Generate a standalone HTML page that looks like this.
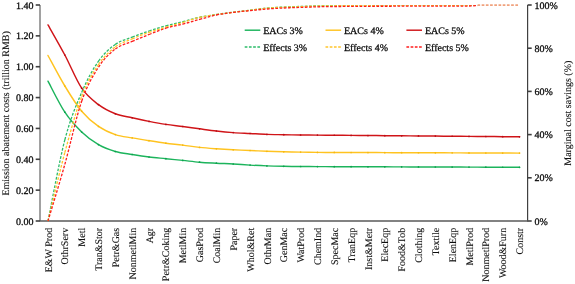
<!DOCTYPE html>
<html><head><meta charset="utf-8"><style>
html,body{margin:0;padding:0;background:#fff;}
body{width:575px;height:284px;overflow:hidden;font-family:"Liberation Serif",serif;}
svg{display:block;will-change:transform;}
text{text-rendering:geometricPrecision;}
</style></head><body>
<svg width="575" height="284" viewBox="0 0 575 284">
<defs><clipPath id="pa"><rect x="40" y="4.9" width="488" height="217"/></clipPath></defs>
<rect width="575" height="284" fill="#fff"/>
<line x1="40" y1="5" x2="40" y2="221" stroke="#8a8a8a" stroke-width="1.6"/>
<line x1="35.7" y1="5.00" x2="40" y2="5.00" stroke="#404040" stroke-width="1.6"/>
<text x="33.4" y="8.60" text-anchor="end" font-family="Liberation Serif, serif" font-size="10" stroke="#000" stroke-width="0.3" stroke-opacity="0.9" fill="#111">1.40</text>
<line x1="35.7" y1="35.86" x2="40" y2="35.86" stroke="#404040" stroke-width="1.6"/>
<text x="33.4" y="39.46" text-anchor="end" font-family="Liberation Serif, serif" font-size="10" stroke="#000" stroke-width="0.3" stroke-opacity="0.9" fill="#111">1.20</text>
<line x1="35.7" y1="66.71" x2="40" y2="66.71" stroke="#404040" stroke-width="1.6"/>
<text x="33.4" y="70.31" text-anchor="end" font-family="Liberation Serif, serif" font-size="10" stroke="#000" stroke-width="0.3" stroke-opacity="0.9" fill="#111">1.00</text>
<line x1="35.7" y1="97.57" x2="40" y2="97.57" stroke="#404040" stroke-width="1.6"/>
<text x="33.4" y="101.17" text-anchor="end" font-family="Liberation Serif, serif" font-size="10" stroke="#000" stroke-width="0.3" stroke-opacity="0.9" fill="#111">0.80</text>
<line x1="35.7" y1="128.43" x2="40" y2="128.43" stroke="#404040" stroke-width="1.6"/>
<text x="33.4" y="132.03" text-anchor="end" font-family="Liberation Serif, serif" font-size="10" stroke="#000" stroke-width="0.3" stroke-opacity="0.9" fill="#111">0.60</text>
<line x1="35.7" y1="159.29" x2="40" y2="159.29" stroke="#404040" stroke-width="1.6"/>
<text x="33.4" y="162.89" text-anchor="end" font-family="Liberation Serif, serif" font-size="10" stroke="#000" stroke-width="0.3" stroke-opacity="0.9" fill="#111">0.40</text>
<line x1="35.7" y1="190.14" x2="40" y2="190.14" stroke="#404040" stroke-width="1.6"/>
<text x="33.4" y="193.74" text-anchor="end" font-family="Liberation Serif, serif" font-size="10" stroke="#000" stroke-width="0.3" stroke-opacity="0.9" fill="#111">0.20</text>
<line x1="35.7" y1="221.00" x2="40" y2="221.00" stroke="#404040" stroke-width="1.6"/>
<text x="33.4" y="224.60" text-anchor="end" font-family="Liberation Serif, serif" font-size="10" stroke="#000" stroke-width="0.3" stroke-opacity="0.9" fill="#111">0.00</text>
<line x1="527.6" y1="5" x2="527.6" y2="221.5" stroke="#404040" stroke-width="1.2"/>
<line x1="527.6" y1="221.00" x2="531.7" y2="221.00" stroke="#404040" stroke-width="1.6"/>
<text x="534.6" y="224.60" font-family="Liberation Serif, serif" font-size="10" stroke="#000" stroke-width="0.3" stroke-opacity="0.9" fill="#111">0%</text>
<line x1="527.6" y1="177.80" x2="531.7" y2="177.80" stroke="#404040" stroke-width="1.6"/>
<text x="534.6" y="181.40" font-family="Liberation Serif, serif" font-size="10" stroke="#000" stroke-width="0.3" stroke-opacity="0.9" fill="#111">20%</text>
<line x1="527.6" y1="134.60" x2="531.7" y2="134.60" stroke="#404040" stroke-width="1.6"/>
<text x="534.6" y="138.20" font-family="Liberation Serif, serif" font-size="10" stroke="#000" stroke-width="0.3" stroke-opacity="0.9" fill="#111">40%</text>
<line x1="527.6" y1="91.40" x2="531.7" y2="91.40" stroke="#404040" stroke-width="1.6"/>
<text x="534.6" y="95.00" font-family="Liberation Serif, serif" font-size="10" stroke="#000" stroke-width="0.3" stroke-opacity="0.9" fill="#111">60%</text>
<line x1="527.6" y1="48.20" x2="531.7" y2="48.20" stroke="#404040" stroke-width="1.6"/>
<text x="534.6" y="51.80" font-family="Liberation Serif, serif" font-size="10" stroke="#000" stroke-width="0.3" stroke-opacity="0.9" fill="#111">80%</text>
<line x1="527.6" y1="5.00" x2="531.7" y2="5.00" stroke="#404040" stroke-width="1.6"/>
<text x="534.6" y="8.60" font-family="Liberation Serif, serif" font-size="10" stroke="#000" stroke-width="0.3" stroke-opacity="0.9" fill="#111">100%</text>
<line x1="39.5" y1="220.95" x2="528" y2="220.95" stroke="#585858" stroke-width="1.6"/>
<text transform="translate(51.60,227.8) rotate(-90)" text-anchor="end" font-family="Liberation Serif, serif" font-size="10" stroke="#000" stroke-width="0.12" stroke-opacity="0.8" fill="#111">E&amp;W Prod</text>
<text transform="translate(68.44,227.8) rotate(-90)" text-anchor="end" font-family="Liberation Serif, serif" font-size="10" stroke="#000" stroke-width="0.12" stroke-opacity="0.8" fill="#111">OthrServ</text>
<text transform="translate(85.28,227.8) rotate(-90)" text-anchor="end" font-family="Liberation Serif, serif" font-size="10" stroke="#000" stroke-width="0.12" stroke-opacity="0.8" fill="#111">Metl</text>
<text transform="translate(102.12,227.8) rotate(-90)" text-anchor="end" font-family="Liberation Serif, serif" font-size="10" stroke="#000" stroke-width="0.12" stroke-opacity="0.8" fill="#111">Tran&amp;Stor</text>
<text transform="translate(118.96,227.8) rotate(-90)" text-anchor="end" font-family="Liberation Serif, serif" font-size="10" stroke="#000" stroke-width="0.12" stroke-opacity="0.8" fill="#111">Petr&amp;Gas</text>
<text transform="translate(135.80,227.8) rotate(-90)" text-anchor="end" font-family="Liberation Serif, serif" font-size="10" stroke="#000" stroke-width="0.12" stroke-opacity="0.8" fill="#111">NonmetlMin</text>
<text transform="translate(152.64,227.8) rotate(-90)" text-anchor="end" font-family="Liberation Serif, serif" font-size="10" stroke="#000" stroke-width="0.12" stroke-opacity="0.8" fill="#111">Agr</text>
<text transform="translate(169.48,227.8) rotate(-90)" text-anchor="end" font-family="Liberation Serif, serif" font-size="10" stroke="#000" stroke-width="0.12" stroke-opacity="0.8" fill="#111">Petr&amp;Coking</text>
<text transform="translate(186.32,227.8) rotate(-90)" text-anchor="end" font-family="Liberation Serif, serif" font-size="10" stroke="#000" stroke-width="0.12" stroke-opacity="0.8" fill="#111">MetlMin</text>
<text transform="translate(203.16,227.8) rotate(-90)" text-anchor="end" font-family="Liberation Serif, serif" font-size="10" stroke="#000" stroke-width="0.12" stroke-opacity="0.8" fill="#111">GasProd</text>
<text transform="translate(220.00,227.8) rotate(-90)" text-anchor="end" font-family="Liberation Serif, serif" font-size="10" stroke="#000" stroke-width="0.12" stroke-opacity="0.8" fill="#111">CoalMin</text>
<text transform="translate(236.84,227.8) rotate(-90)" text-anchor="end" font-family="Liberation Serif, serif" font-size="10" stroke="#000" stroke-width="0.12" stroke-opacity="0.8" fill="#111">Paper</text>
<text transform="translate(253.68,227.8) rotate(-90)" text-anchor="end" font-family="Liberation Serif, serif" font-size="10" stroke="#000" stroke-width="0.12" stroke-opacity="0.8" fill="#111">Whol&amp;Ret</text>
<text transform="translate(270.52,227.8) rotate(-90)" text-anchor="end" font-family="Liberation Serif, serif" font-size="10" stroke="#000" stroke-width="0.12" stroke-opacity="0.8" fill="#111">OthrMan</text>
<text transform="translate(287.36,227.8) rotate(-90)" text-anchor="end" font-family="Liberation Serif, serif" font-size="10" stroke="#000" stroke-width="0.12" stroke-opacity="0.8" fill="#111">GenMac</text>
<text transform="translate(304.20,227.8) rotate(-90)" text-anchor="end" font-family="Liberation Serif, serif" font-size="10" stroke="#000" stroke-width="0.12" stroke-opacity="0.8" fill="#111">WatProd</text>
<text transform="translate(321.04,227.8) rotate(-90)" text-anchor="end" font-family="Liberation Serif, serif" font-size="10" stroke="#000" stroke-width="0.12" stroke-opacity="0.8" fill="#111">ChemInd</text>
<text transform="translate(337.88,227.8) rotate(-90)" text-anchor="end" font-family="Liberation Serif, serif" font-size="10" stroke="#000" stroke-width="0.12" stroke-opacity="0.8" fill="#111">SpecMac</text>
<text transform="translate(354.72,227.8) rotate(-90)" text-anchor="end" font-family="Liberation Serif, serif" font-size="10" stroke="#000" stroke-width="0.12" stroke-opacity="0.8" fill="#111">TranEqp</text>
<text transform="translate(371.56,227.8) rotate(-90)" text-anchor="end" font-family="Liberation Serif, serif" font-size="10" stroke="#000" stroke-width="0.12" stroke-opacity="0.8" fill="#111">Inst&amp;Metr</text>
<text transform="translate(388.40,227.8) rotate(-90)" text-anchor="end" font-family="Liberation Serif, serif" font-size="10" stroke="#000" stroke-width="0.12" stroke-opacity="0.8" fill="#111">ElecEqp</text>
<text transform="translate(405.24,227.8) rotate(-90)" text-anchor="end" font-family="Liberation Serif, serif" font-size="10" stroke="#000" stroke-width="0.12" stroke-opacity="0.8" fill="#111">Food&amp;Tob</text>
<text transform="translate(422.08,227.8) rotate(-90)" text-anchor="end" font-family="Liberation Serif, serif" font-size="10" stroke="#000" stroke-width="0.12" stroke-opacity="0.8" fill="#111">Clothing</text>
<text transform="translate(438.92,227.8) rotate(-90)" text-anchor="end" font-family="Liberation Serif, serif" font-size="10" stroke="#000" stroke-width="0.12" stroke-opacity="0.8" fill="#111">Textile</text>
<text transform="translate(455.76,227.8) rotate(-90)" text-anchor="end" font-family="Liberation Serif, serif" font-size="10" stroke="#000" stroke-width="0.12" stroke-opacity="0.8" fill="#111">ElenEqp</text>
<text transform="translate(472.60,227.8) rotate(-90)" text-anchor="end" font-family="Liberation Serif, serif" font-size="10" stroke="#000" stroke-width="0.12" stroke-opacity="0.8" fill="#111">MetlProd</text>
<text transform="translate(489.44,227.8) rotate(-90)" text-anchor="end" font-family="Liberation Serif, serif" font-size="10" stroke="#000" stroke-width="0.12" stroke-opacity="0.8" fill="#111">NonmetlProd</text>
<text transform="translate(506.28,227.8) rotate(-90)" text-anchor="end" font-family="Liberation Serif, serif" font-size="10" stroke="#000" stroke-width="0.12" stroke-opacity="0.8" fill="#111">Wood&amp;Furn</text>
<text transform="translate(523.12,227.8) rotate(-90)" text-anchor="end" font-family="Liberation Serif, serif" font-size="10" stroke="#000" stroke-width="0.12" stroke-opacity="0.8" fill="#111">Constr</text>
<text transform="translate(9.0,113.4) rotate(-90)" text-anchor="middle" font-family="Liberation Serif, serif" font-size="10" stroke="#000" stroke-width="0.12" stroke-opacity="0.8" fill="#111">Emission abatement costs (trillion RMB)</text>
<text transform="translate(571.3,113.2) rotate(-90)" text-anchor="middle" font-family="Liberation Serif, serif" font-size="10" stroke="#000" stroke-width="0.12" stroke-opacity="0.8" fill="#111">Marginal cost savings (%)</text>
<g fill="none" stroke-linejoin="round" clip-path="url(#pa)">
<path d="M48.00,81.20C50.81,86.37 59.23,103.73 64.84,112.20C70.45,120.67 76.07,126.58 81.68,132.00C87.29,137.42 92.91,141.45 98.52,144.70C104.13,147.95 109.75,149.87 115.36,151.50C120.97,153.13 126.59,153.58 132.20,154.50C137.81,155.42 143.43,156.30 149.04,157.00C154.65,157.70 160.27,158.13 165.88,158.70C171.49,159.27 177.11,159.82 182.72,160.40C188.33,160.98 193.95,161.73 199.56,162.20C205.17,162.67 210.79,162.90 216.40,163.20C222.01,163.50 227.63,163.68 233.24,164.00C238.85,164.32 244.47,164.78 250.08,165.10C255.69,165.42 261.31,165.70 266.92,165.90C272.53,166.10 278.15,166.20 283.76,166.30C289.37,166.40 294.99,166.45 300.60,166.50C306.21,166.55 311.83,166.57 317.44,166.60C323.05,166.63 328.67,166.64 334.28,166.66C339.89,166.68 345.51,166.70 351.12,166.72C356.73,166.74 362.35,166.76 367.96,166.78C373.57,166.79 379.19,166.81 384.80,166.83C390.41,166.85 396.03,166.87 401.64,166.89C407.25,166.91 412.87,166.93 418.48,166.95C424.09,166.97 429.71,166.99 435.32,167.01C440.93,167.03 446.55,167.05 452.16,167.07C457.77,167.09 463.39,167.11 469.00,167.12C474.61,167.14 480.23,167.16 485.84,167.18C491.45,167.20 497.07,167.22 502.68,167.24C508.29,167.26 516.71,167.29 519.52,167.30" stroke="#1cb45c" stroke-width="1.45" stroke-linecap="round"/>
<path d="M48.00,55.50C50.81,60.58 59.23,76.72 64.84,86.00C70.45,95.28 76.07,104.47 81.68,111.20C87.29,117.93 92.91,122.50 98.52,126.40C104.13,130.30 109.75,132.68 115.36,134.60C120.97,136.52 126.59,136.88 132.20,137.90C137.81,138.92 143.43,139.82 149.04,140.70C154.65,141.58 160.27,142.47 165.88,143.20C171.49,143.93 177.11,144.40 182.72,145.10C188.33,145.80 193.95,146.78 199.56,147.40C205.17,148.02 210.79,148.40 216.40,148.80C222.01,149.20 227.63,149.52 233.24,149.80C238.85,150.08 244.47,150.25 250.08,150.50C255.69,150.75 261.31,151.08 266.92,151.30C272.53,151.52 278.15,151.67 283.76,151.80C289.37,151.93 294.99,152.00 300.60,152.10C306.21,152.20 311.83,152.34 317.44,152.40C323.05,152.46 328.67,152.44 334.28,152.46C339.89,152.48 345.51,152.50 351.12,152.52C356.73,152.54 362.35,152.56 367.96,152.57C373.57,152.59 379.19,152.61 384.80,152.63C390.41,152.65 396.03,152.67 401.64,152.69C407.25,152.71 412.87,152.73 418.48,152.75C424.09,152.77 429.71,152.79 435.32,152.81C440.93,152.83 446.55,152.85 452.16,152.87C457.77,152.89 463.39,152.91 469.00,152.93C474.61,152.94 480.23,152.96 485.84,152.98C491.45,153.00 497.07,153.02 502.68,153.04C508.29,153.06 516.71,153.09 519.52,153.10" stroke="#ffc320" stroke-width="1.45" stroke-linecap="round"/>
<path d="M48.00,24.90C50.81,29.92 59.23,44.45 64.84,55.00C70.45,65.55 76.07,79.92 81.68,88.20C87.29,96.48 92.91,100.43 98.52,104.70C104.13,108.97 109.75,111.62 115.36,113.80C120.97,115.98 126.59,116.53 132.20,117.80C137.81,119.07 143.43,120.30 149.04,121.40C154.65,122.50 160.27,123.55 165.88,124.40C171.49,125.25 177.11,125.77 182.72,126.50C188.33,127.23 193.95,128.05 199.56,128.80C205.17,129.55 210.79,130.37 216.40,131.00C222.01,131.63 227.63,132.18 233.24,132.60C238.85,133.02 244.47,133.20 250.08,133.50C255.69,133.80 261.31,134.20 266.92,134.40C272.53,134.60 278.15,134.60 283.76,134.70C289.37,134.80 294.99,134.93 300.60,135.00C306.21,135.07 311.83,135.06 317.44,135.10C323.05,135.14 328.67,135.19 334.28,135.24C339.89,135.29 345.51,135.34 351.12,135.38C356.73,135.43 362.35,135.48 367.96,135.53C373.57,135.57 379.19,135.62 384.80,135.67C390.41,135.71 396.03,135.76 401.64,135.81C407.25,135.86 412.87,135.90 418.48,135.95C424.09,136.00 429.71,136.04 435.32,136.09C440.93,136.14 446.55,136.19 452.16,136.23C457.77,136.28 463.39,136.33 469.00,136.38C474.61,136.42 480.23,136.47 485.84,136.52C491.45,136.56 497.07,136.61 502.68,136.66C508.29,136.71 516.71,136.78 519.52,136.80" stroke="#d01418" stroke-width="1.45" stroke-linecap="round"/>
<circle cx="64.84" cy="112.20" r="0.85" fill="#0ca04c"/>
<circle cx="81.68" cy="132.00" r="0.85" fill="#0ca04c"/>
<circle cx="98.52" cy="144.70" r="0.85" fill="#0ca04c"/>
<circle cx="115.36" cy="151.50" r="0.85" fill="#0ca04c"/>
<circle cx="132.20" cy="154.50" r="0.85" fill="#0ca04c"/>
<circle cx="149.04" cy="157.00" r="0.85" fill="#0ca04c"/>
<circle cx="165.88" cy="158.70" r="0.85" fill="#0ca04c"/>
<circle cx="182.72" cy="160.40" r="0.85" fill="#0ca04c"/>
<circle cx="199.56" cy="162.20" r="0.85" fill="#0ca04c"/>
<circle cx="216.40" cy="163.20" r="0.85" fill="#0ca04c"/>
<circle cx="233.24" cy="164.00" r="0.85" fill="#0ca04c"/>
<circle cx="250.08" cy="165.10" r="0.85" fill="#0ca04c"/>
<circle cx="266.92" cy="165.90" r="0.85" fill="#0ca04c"/>
<circle cx="283.76" cy="166.30" r="0.85" fill="#0ca04c"/>
<circle cx="300.60" cy="166.50" r="0.85" fill="#0ca04c"/>
<circle cx="317.44" cy="166.60" r="0.85" fill="#0ca04c"/>
<circle cx="334.28" cy="166.66" r="0.85" fill="#0ca04c"/>
<circle cx="351.12" cy="166.72" r="0.85" fill="#0ca04c"/>
<circle cx="367.96" cy="166.78" r="0.85" fill="#0ca04c"/>
<circle cx="384.80" cy="166.83" r="0.85" fill="#0ca04c"/>
<circle cx="401.64" cy="166.89" r="0.85" fill="#0ca04c"/>
<circle cx="418.48" cy="166.95" r="0.85" fill="#0ca04c"/>
<circle cx="435.32" cy="167.01" r="0.85" fill="#0ca04c"/>
<circle cx="452.16" cy="167.07" r="0.85" fill="#0ca04c"/>
<circle cx="469.00" cy="167.12" r="0.85" fill="#0ca04c"/>
<circle cx="485.84" cy="167.18" r="0.85" fill="#0ca04c"/>
<circle cx="502.68" cy="167.24" r="0.85" fill="#0ca04c"/>
<circle cx="519.52" cy="167.30" r="0.85" fill="#0ca04c"/>
<circle cx="64.84" cy="86.00" r="0.85" fill="#f5b810"/>
<circle cx="81.68" cy="111.20" r="0.85" fill="#f5b810"/>
<circle cx="98.52" cy="126.40" r="0.85" fill="#f5b810"/>
<circle cx="115.36" cy="134.60" r="0.85" fill="#f5b810"/>
<circle cx="132.20" cy="137.90" r="0.85" fill="#f5b810"/>
<circle cx="149.04" cy="140.70" r="0.85" fill="#f5b810"/>
<circle cx="165.88" cy="143.20" r="0.85" fill="#f5b810"/>
<circle cx="182.72" cy="145.10" r="0.85" fill="#f5b810"/>
<circle cx="199.56" cy="147.40" r="0.85" fill="#f5b810"/>
<circle cx="216.40" cy="148.80" r="0.85" fill="#f5b810"/>
<circle cx="233.24" cy="149.80" r="0.85" fill="#f5b810"/>
<circle cx="250.08" cy="150.50" r="0.85" fill="#f5b810"/>
<circle cx="266.92" cy="151.30" r="0.85" fill="#f5b810"/>
<circle cx="283.76" cy="151.80" r="0.85" fill="#f5b810"/>
<circle cx="300.60" cy="152.10" r="0.85" fill="#f5b810"/>
<circle cx="317.44" cy="152.40" r="0.85" fill="#f5b810"/>
<circle cx="334.28" cy="152.46" r="0.85" fill="#f5b810"/>
<circle cx="351.12" cy="152.52" r="0.85" fill="#f5b810"/>
<circle cx="367.96" cy="152.57" r="0.85" fill="#f5b810"/>
<circle cx="384.80" cy="152.63" r="0.85" fill="#f5b810"/>
<circle cx="401.64" cy="152.69" r="0.85" fill="#f5b810"/>
<circle cx="418.48" cy="152.75" r="0.85" fill="#f5b810"/>
<circle cx="435.32" cy="152.81" r="0.85" fill="#f5b810"/>
<circle cx="452.16" cy="152.87" r="0.85" fill="#f5b810"/>
<circle cx="469.00" cy="152.93" r="0.85" fill="#f5b810"/>
<circle cx="485.84" cy="152.98" r="0.85" fill="#f5b810"/>
<circle cx="502.68" cy="153.04" r="0.85" fill="#f5b810"/>
<circle cx="519.52" cy="153.10" r="0.85" fill="#f5b810"/>
<circle cx="64.84" cy="55.00" r="0.85" fill="#b80c14"/>
<circle cx="81.68" cy="88.20" r="0.85" fill="#b80c14"/>
<circle cx="98.52" cy="104.70" r="0.85" fill="#b80c14"/>
<circle cx="115.36" cy="113.80" r="0.85" fill="#b80c14"/>
<circle cx="132.20" cy="117.80" r="0.85" fill="#b80c14"/>
<circle cx="149.04" cy="121.40" r="0.85" fill="#b80c14"/>
<circle cx="165.88" cy="124.40" r="0.85" fill="#b80c14"/>
<circle cx="182.72" cy="126.50" r="0.85" fill="#b80c14"/>
<circle cx="199.56" cy="128.80" r="0.85" fill="#b80c14"/>
<circle cx="216.40" cy="131.00" r="0.85" fill="#b80c14"/>
<circle cx="233.24" cy="132.60" r="0.85" fill="#b80c14"/>
<circle cx="250.08" cy="133.50" r="0.85" fill="#b80c14"/>
<circle cx="266.92" cy="134.40" r="0.85" fill="#b80c14"/>
<circle cx="283.76" cy="134.70" r="0.85" fill="#b80c14"/>
<circle cx="300.60" cy="135.00" r="0.85" fill="#b80c14"/>
<circle cx="317.44" cy="135.10" r="0.85" fill="#b80c14"/>
<circle cx="334.28" cy="135.24" r="0.85" fill="#b80c14"/>
<circle cx="351.12" cy="135.38" r="0.85" fill="#b80c14"/>
<circle cx="367.96" cy="135.53" r="0.85" fill="#b80c14"/>
<circle cx="384.80" cy="135.67" r="0.85" fill="#b80c14"/>
<circle cx="401.64" cy="135.81" r="0.85" fill="#b80c14"/>
<circle cx="418.48" cy="135.95" r="0.85" fill="#b80c14"/>
<circle cx="435.32" cy="136.09" r="0.85" fill="#b80c14"/>
<circle cx="452.16" cy="136.23" r="0.85" fill="#b80c14"/>
<circle cx="469.00" cy="136.38" r="0.85" fill="#b80c14"/>
<circle cx="485.84" cy="136.52" r="0.85" fill="#b80c14"/>
<circle cx="502.68" cy="136.66" r="0.85" fill="#b80c14"/>
<circle cx="519.52" cy="136.80" r="0.85" fill="#b80c14"/>
<path d="M48.00,221.00C50.81,207.47 59.23,161.23 64.84,139.80M64.84,139.80C70.45,118.37 76.07,105.52 81.68,92.40M81.68,92.40C87.29,79.28 92.91,69.10 98.52,61.10M98.52,61.10C104.13,53.10 109.75,48.40 115.36,44.40M115.36,44.40C120.97,40.40 126.59,39.33 132.20,37.10M132.20,37.10C137.81,34.87 143.43,32.87 149.04,31.00M149.04,31.00C154.65,29.13 160.27,27.45 165.88,25.90M165.88,25.90C171.49,24.35 177.11,23.13 182.72,21.70M182.72,21.70C188.33,20.27 193.95,18.50 199.56,17.30M199.56,17.30C205.17,16.10 210.79,15.35 216.40,14.50M216.40,14.50C222.01,13.65 227.63,12.92 233.24,12.20M233.24,12.20C238.85,11.48 244.47,10.89 250.08,10.20M250.08,10.20C255.69,9.51 261.31,8.58 266.92,8.05M266.92,8.05C272.53,7.53 278.15,7.32 283.76,7.05M283.76,7.05C289.37,6.78 294.99,6.65 300.60,6.45M300.60,6.45C306.21,6.25 311.83,5.99 317.44,5.85M317.44,5.85C323.05,5.71 328.67,5.67 334.28,5.60M334.28,5.60C339.89,5.53 345.51,5.49 351.12,5.45M351.12,5.45C356.73,5.41 362.35,5.38 367.96,5.35M367.96,5.35C373.57,5.32 379.19,5.32 384.80,5.30M384.80,5.30C390.41,5.28 396.03,5.27 401.64,5.25M401.64,5.25C407.25,5.23 412.87,5.22 418.48,5.20M418.48,5.20C424.09,5.18 429.71,5.17 435.32,5.15M435.32,5.15C440.93,5.13 446.55,5.12 452.16,5.10M452.16,5.10C457.77,5.08 463.39,5.07 469.00,5.05M469.00,5.05C474.61,5.03 480.23,5.01 485.84,5.00M485.84,5.00C491.45,4.99 497.07,5.00 502.68,5.00M502.68,5.00C508.29,5.00 516.71,5.00 519.52,5.00" stroke="#2cbc6a" stroke-width="1.3" stroke-dasharray="2.7 1.52"/>
<path d="M48.00,221.00C50.81,209.58 59.23,173.25 64.84,152.50M64.84,152.50C70.45,131.75 76.07,111.17 81.68,96.50M81.68,96.50C87.29,81.83 92.91,72.77 98.52,64.50M98.52,64.50C104.13,56.23 109.75,51.17 115.36,46.90M115.36,46.90C120.97,42.63 126.59,41.32 132.20,38.90M132.20,38.90C137.81,36.48 143.43,34.35 149.04,32.40M149.04,32.40C154.65,30.45 160.27,28.85 165.88,27.20M165.88,27.20C171.49,25.55 177.11,24.13 182.72,22.50M182.72,22.50C188.33,20.87 193.95,18.72 199.56,17.40M199.56,17.40C205.17,16.08 210.79,15.45 216.40,14.60M216.40,14.60C222.01,13.75 227.63,13.02 233.24,12.30M233.24,12.30C238.85,11.58 244.47,10.98 250.08,10.30M250.08,10.30C255.69,9.62 261.31,8.76 266.92,8.25M266.92,8.25C272.53,7.74 278.15,7.52 283.76,7.25M283.76,7.25C289.37,6.98 294.99,6.85 300.60,6.65M300.60,6.65C306.21,6.45 311.83,6.19 317.44,6.05M317.44,6.05C323.05,5.91 328.67,5.87 334.28,5.80M334.28,5.80C339.89,5.73 345.51,5.69 351.12,5.65M351.12,5.65C356.73,5.61 362.35,5.58 367.96,5.55M367.96,5.55C373.57,5.52 379.19,5.52 384.80,5.50M384.80,5.50C390.41,5.48 396.03,5.47 401.64,5.45M401.64,5.45C407.25,5.43 412.87,5.42 418.48,5.40M418.48,5.40C424.09,5.38 429.71,5.37 435.32,5.35M435.32,5.35C440.93,5.33 446.55,5.32 452.16,5.30M452.16,5.30C457.77,5.28 463.39,5.30 469.00,5.25M469.00,5.25C474.61,5.20 480.23,5.04 485.84,5.00M485.84,5.00C491.45,4.96 497.07,5.00 502.68,5.00M502.68,5.00C508.29,5.00 516.71,5.00 519.52,5.00" stroke="#ffc52c" stroke-width="1.3" stroke-dasharray="2.7 1.52"/>
<path d="M48.00,221.00C50.81,211.55 59.23,184.27 64.84,164.30M64.84,164.30C70.45,144.33 76.07,117.40 81.68,101.20M81.68,101.20C87.29,85.00 92.91,75.80 98.52,67.10M98.52,67.10C104.13,58.40 109.75,53.28 115.36,49.00M115.36,49.00C120.97,44.72 126.59,43.82 132.20,41.40M132.20,41.40C137.81,38.98 143.43,36.70 149.04,34.50M149.04,34.50C154.65,32.30 160.27,29.93 165.88,28.20M165.88,28.20C171.49,26.47 177.11,25.57 182.72,24.10M182.72,24.10C188.33,22.63 193.95,20.92 199.56,19.40M199.56,19.40C205.17,17.88 210.79,16.17 216.40,15.00M216.40,15.00C222.01,13.83 227.63,13.13 233.24,12.40M233.24,12.40C238.85,11.67 244.47,11.17 250.08,10.60M250.08,10.60C255.69,10.03 261.31,9.43 266.92,9.00M266.92,9.00C272.53,8.57 278.15,8.27 283.76,8.00M283.76,8.00C289.37,7.73 294.99,7.60 300.60,7.40M300.60,7.40C306.21,7.20 311.83,6.94 317.44,6.80M317.44,6.80C323.05,6.66 328.67,6.62 334.28,6.55M334.28,6.55C339.89,6.48 345.51,6.44 351.12,6.40M351.12,6.40C356.73,6.36 362.35,6.33 367.96,6.30M367.96,6.30C373.57,6.27 379.19,6.27 384.80,6.25M384.80,6.25C390.41,6.23 396.03,6.22 401.64,6.20M401.64,6.20C407.25,6.18 412.87,6.17 418.48,6.15M418.48,6.15C424.09,6.13 429.71,6.12 435.32,6.10M435.32,6.10C440.93,6.08 446.55,6.07 452.16,6.05M452.16,6.05C457.77,6.03 463.39,6.17 469.00,6.00M469.00,6.00C474.61,5.83 480.23,5.17 485.84,5.00M485.84,5.00C491.45,4.83 497.07,5.00 502.68,5.00M502.68,5.00C508.29,5.00 516.71,5.00 519.52,5.00" stroke="#ff1c1c" stroke-width="1.3" stroke-dasharray="2.7 1.52"/>
</g>
<rect x="477.3" y="2" width="45" height="6" fill="#fff"/>
<clipPath id="pt"><rect x="477.3" y="0" width="50" height="12"/></clipPath>
<path d="M452.16,5.20L469.00,5.20M469.00,5.20L485.84,5.20M485.84,5.20L502.68,5.20M502.68,5.20L519.52,5.20" fill="none" stroke="#f0a27e" stroke-width="1.7" stroke-dasharray="2.7 1.52" clip-path="url(#pt)"/>
<line x1="244.7" y1="30.2" x2="260.3" y2="30.2" stroke="#1cb45c" stroke-width="1.45"/>
<text x="263.2" y="33.7" font-family="Liberation Serif, serif" font-size="10" stroke="#000" stroke-width="0.3" stroke-opacity="0.9" fill="#111">EACs 3%</text>
<line x1="244.7" y1="47" x2="260.3" y2="47" stroke="#2cbc6a" stroke-width="1.3" stroke-dasharray="2.7 1.52"/>
<text x="263.2" y="50.6" font-family="Liberation Serif, serif" font-size="10" stroke="#000" stroke-width="0.3" stroke-opacity="0.9" fill="#111">Effects 3%</text>
<line x1="325.5" y1="30.2" x2="341.1" y2="30.2" stroke="#ffc320" stroke-width="1.45"/>
<text x="344.0" y="33.7" font-family="Liberation Serif, serif" font-size="10" stroke="#000" stroke-width="0.3" stroke-opacity="0.9" fill="#111">EACs 4%</text>
<line x1="325.5" y1="47" x2="341.1" y2="47" stroke="#ffc52c" stroke-width="1.3" stroke-dasharray="2.7 1.52"/>
<text x="344.0" y="50.6" font-family="Liberation Serif, serif" font-size="10" stroke="#000" stroke-width="0.3" stroke-opacity="0.9" fill="#111">Effects 4%</text>
<line x1="406.4" y1="30.2" x2="422.0" y2="30.2" stroke="#d01418" stroke-width="1.45"/>
<text x="424.9" y="33.7" font-family="Liberation Serif, serif" font-size="10" stroke="#000" stroke-width="0.3" stroke-opacity="0.9" fill="#111">EACs 5%</text>
<line x1="406.4" y1="47" x2="422.0" y2="47" stroke="#ff1c1c" stroke-width="1.3" stroke-dasharray="2.7 1.52"/>
<text x="424.9" y="50.6" font-family="Liberation Serif, serif" font-size="10" stroke="#000" stroke-width="0.3" stroke-opacity="0.9" fill="#111">Effects 5%</text>
</svg>
</body></html>
